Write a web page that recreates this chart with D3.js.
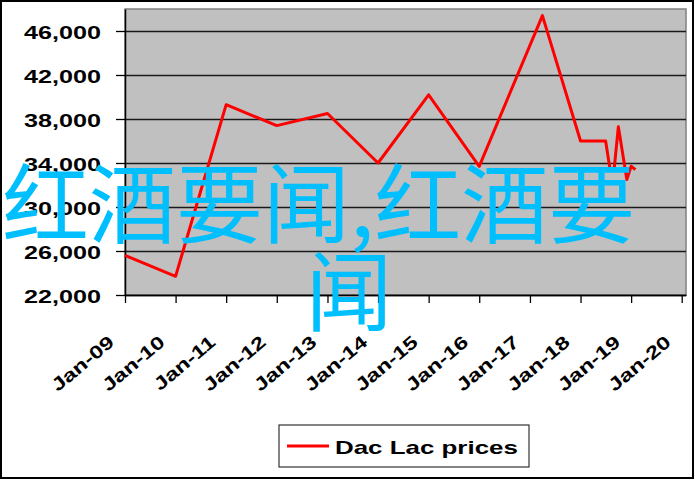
<!DOCTYPE html>
<html><head><meta charset="utf-8">
<script src="https://cdn.jsdelivr.net/npm/d3@7"></script>
<style>body{margin:0;background:#fff}svg{display:block}</style>
</head><body>
<svg id="c" width="695" height="481"></svg>
<script>
// ---- data ----
const dates = ["2009-01","2010-01","2011-01","2012-01","2013-01","2014-01","2015-01","2016-01","2017-04","2018-01","2018-07","2018-08","2018-09","2018-10","2018-12","2019-01","2019-02"];
const prices = [25600,23700,39300,37400,38500,34000,40200,33700,47400,36000,36000,33500,33500,37300,32500,33700,33400];
const yTicks = [22000,26000,30000,34000,38000,42000,46000];
const xTickYears = [2009,2010,2011,2012,2013,2014,2015,2016,2017,2018,2019,2020];
const seriesName = "Dac Lac prices";
const overlayText = "红酒要闻,红酒要闻";

// ---- layout ----
const svg = d3.select("#c");
const L = 125, R = 686, T = 9, B = 295;
const SX = 1.4;
const parse = d3.timeParse("%Y-%m");
const data = dates.map((d,i)=>({date: parse(d), v: prices[i]}));

const x = d3.scaleTime().domain([new Date(2009,0,1), new Date(2020,1,1)]).range([L, R]);
const y = d3.scaleLinear().domain([22000,48000]).range([B, T]);

svg.append("rect").attr("x",1).attr("y",1).attr("width",692).attr("height",477)
  .attr("fill","#fff").attr("stroke","#000").attr("stroke-width",2);

// plot area
svg.append("rect").attr("x",L).attr("y",T).attr("width",R-L).attr("height",B-T)
  .attr("fill","#C0C0C0").attr("stroke","#808080").attr("stroke-width",1.5);

// gridlines
svg.append("g").attr("transform",`translate(${L},0)`)
  .call(d3.axisLeft(y).tickValues(yTicks).tickSize(-(R-L)).tickFormat(""))
  .call(g=>g.select(".domain").remove())
  .call(g=>g.selectAll("line").attr("stroke","#1a1a1a").attr("stroke-width",1.3));

const font = "'Liberation Sans', Arial, sans-serif";

// y axis
svg.append("g").attr("transform",`translate(${L},0)`)
  .call(d3.axisLeft(y).tickValues(yTicks).tickSize(9).tickSizeOuter(0).tickFormat(d3.format(",")))
  .call(g=>g.select(".domain").attr("stroke","#000").attr("stroke-width",1.5))
  .call(g=>g.selectAll("line").attr("stroke","#000").attr("stroke-width",1.3))
  .call(g=>g.selectAll("text").attr("x",null).attr("dy",null).attr("fill","#000")
     .attr("text-anchor","end").attr("font-family",font).attr("font-weight","bold").attr("font-size",18)
     .attr("transform",`translate(-24,7) scale(${SX},1)`));

// x axis
svg.append("g").attr("transform",`translate(0,${B})`)
  .call(d3.axisBottom(x).tickValues(xTickYears.map(yr=>new Date(yr,0,1))).tickSize(8).tickSizeOuter(0)
     .tickFormat(d3.timeFormat("%b-%y")))
  .call(g=>g.select(".domain").attr("stroke","#000").attr("stroke-width",1.5))
  .call(g=>g.selectAll("line").attr("stroke","#000").attr("stroke-width",1.3))
  .call(g=>g.selectAll("text").attr("y",null).attr("dy",null).attr("fill","#000")
     .attr("text-anchor","end").attr("font-family",font).attr("font-weight","bold").attr("font-size",18)
     .attr("transform",`translate(-10,49) rotate(-40) scale(1.32,1)`));

// line
svg.append("path").datum(data)
  .attr("fill","none").attr("stroke","#FF0000").attr("stroke-width",3).attr("stroke-linejoin","round")
  .attr("d", d3.line().x(d=>x(d.date)).y(d=>y(d.v)));

// legend
const lg = svg.append("g");
lg.append("rect").attr("x",279).attr("y",425).attr("width",250).attr("height",42)
  .attr("fill","#fff").attr("stroke","#333").attr("stroke-width",1.2);
lg.append("line").attr("x1",287).attr("x2",329).attr("y1",446).attr("y2",446)
  .attr("stroke","#FF0000").attr("stroke-width",3);
lg.append("text").text(seriesName).attr("font-family",font).attr("font-weight","bold").attr("font-size",18)
  .attr("transform",`translate(335,454) scale(1.44,1)`).attr("fill","#000");

// overlay text
const ov = svg.append("g").attr("font-family","'Noto Sans CJK SC', sans-serif").attr("font-size",87).attr("fill","#00BFFF");
ov.append("text").attr("x",2).attr("y",237).text(overlayText.slice(0,8));
ov.append("text").attr("x",349).attr("y",325).attr("text-anchor","middle").text(overlayText.slice(8));
</script>
</body></html>
